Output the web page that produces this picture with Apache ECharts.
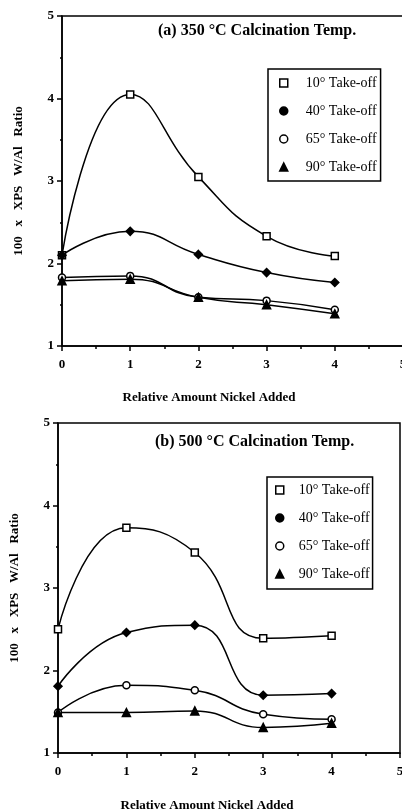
<!DOCTYPE html>
<html>
<head>
<meta charset="utf-8">
<script src="https://cdn.jsdelivr.net/npm/echarts@6/dist/echarts.min.js"></script>
<style>
  html, body { margin: 0; padding: 0; background: #fff; }
  #chart { width: 402px; height: 812px; }
</style>
</head>
<body>
<div id="chart"></div>
<script>
// x positions (relative amount of nickel added)
const nickel = [0, 1, 2, 3, 4]
const seriesNames = ['10° Take-off', '40° Take-off', '65° Take-off', '90° Take-off']

// (a) 350 °C calcination
const a10 = [2.1, 4.05, 3.05, 2.33, 2.09]
const a40 = [2.1, 2.39, 2.11, 1.89, 1.77]
const a65 = [1.83, 1.85, 1.59, 1.55, 1.44]
const a90 = [1.79, 1.81, 1.59, 1.50, 1.39]

// (b) 500 °C calcination
const b10 = [2.5, 3.73, 3.43, 2.39, 2.42]
const b40 = [1.81, 2.46, 2.55, 1.70, 1.72]
const b65 = [1.49, 1.82, 1.76, 1.47, 1.41]
const b90 = [1.49, 1.49, 1.51, 1.31, 1.36]

const serif = '"Liberation Serif", "DejaVu Serif", serif'

// marker style per series: hollow square, filled diamond, hollow circle, filled triangle
const markers = [
  { symbol: 'rect', size: 7, fill: '#fff' },
  { symbol: 'diamond', size: 8, fill: '#000' },
  { symbol: 'circle', size: 7, fill: '#fff' },
  { symbol: 'triangle', size: 8, fill: '#000' },
]
const legendIcons = ['rect', 'circle', 'circle', 'triangle']

const toPairs = (ys) => nickel.map((x, i) => [x, ys[i]])

const makeSeries = (idx, groups) =>
  groups.map((ys, k) => ({
    name: seriesNames[k],
    type: 'line',
    xAxisIndex: idx,
    yAxisIndex: idx,
    data: toPairs(ys),
    smooth: 0.5,
    symbol: markers[k].symbol,
    symbolSize: markers[k].size,
    lineStyle: { color: '#000', width: 1.5 },
    itemStyle: { color: markers[k].fill, borderColor: '#000', borderWidth: 1.5 },
    z: 3,
  }))

const makeXAxis = (idx) => ({
  type: 'value',
  gridIndex: idx,
  min: 0,
  max: 5,
  interval: 1,
  axisLine: { lineStyle: { color: '#000', width: 1.5 } },
  axisTick: { length: 5, lineStyle: { color: '#000', width: 1.5 } },
  minorTick: { show: true, splitNumber: 2, length: 3, lineStyle: { color: '#000', width: 1.5 } },
  splitLine: { show: false },
  axisLabel: { color: '#000', fontFamily: serif, fontWeight: 'bold', fontSize: 13, margin: 12 },
})

const makeYAxis = (idx) => ({
  type: 'value',
  gridIndex: idx,
  min: 1,
  max: 5,
  interval: 1,
  name: '100   x   XPS   W/Al   Ratio',
  nameLocation: 'middle',
  nameGap: 37,
  nameTextStyle: { color: '#000', fontFamily: serif, fontWeight: 'bold', fontSize: 13 },
  axisLine: { lineStyle: { color: '#000', width: 1.5 } },
  axisTick: { length: 5, lineStyle: { color: '#000', width: 1.5 } },
  minorTick: { show: true, splitNumber: 2, length: 2, lineStyle: { color: '#000', width: 1.5 } },
  splitLine: { show: false },
  axisLabel: { color: '#000', fontFamily: serif, fontWeight: 'bold', fontSize: 13, margin: 8 },
})

const makeLegend = (pos) => ({
  orient: 'vertical',
  left: pos.left,
  top: pos.top,
  padding: pos.padding,
  itemGap: 14,
  itemWidth: 8,
  itemHeight: 8,
  borderColor: '#000',
  borderWidth: 1.5,
  selectedMode: false,
  textStyle: { color: '#000', fontFamily: serif, fontSize: 14, padding: [0, 0, 0, pos.textPad] },
  data: seriesNames.map((n, k) => ({
    name: n,
    icon: legendIcons[k],
    itemStyle: { color: markers[k].fill, borderColor: '#000', borderWidth: 1.5 },
  })),
})

const chart = echarts.init(document.getElementById('chart'))

const option = {
  backgroundColor: '#fff',
  animation: false,
  grid: [
    { left: 62, top: 16, width: 341, height: 330, outerBoundsMode: 'none', show: true, borderColor: '#000', borderWidth: 1.5, backgroundColor: 'transparent' },
    { left: 58, top: 423, width: 342, height: 330, outerBoundsMode: 'none', show: true, borderColor: '#000', borderWidth: 1.5, backgroundColor: 'transparent' },
  ],
  xAxis: [makeXAxis(0), makeXAxis(1)],
  yAxis: [makeYAxis(0), makeYAxis(1)],
  legend: [
    makeLegend({ left: 268, top: 69, padding: [7, 4, 7, 11], textPad: 13 }),
    makeLegend({ left: 267, top: 477, padding: [6, 3, 8, 8], textPad: 10 }),
  ],
  graphic: [
    { type: 'text', left: 158, top: 23, style: { text: '(a) 350 °C Calcination Temp.', font: 'bold 16px ' + serif, fill: '#000' } },
    { type: 'text', left: 155, top: 434, style: { text: '(b) 500 °C Calcination Temp.', font: 'bold 16px ' + serif, fill: '#000' } },
    { type: 'text', x: 209, y: 398, style: { text: 'Relative Amount Nickel Added', font: 'bold 13px ' + serif, fill: '#000', align: 'center', verticalAlign: 'middle' } },
    { type: 'text', x: 207, y: 806, style: { text: 'Relative Amount Nickel Added', font: 'bold 13px ' + serif, fill: '#000', align: 'center', verticalAlign: 'middle' } },
  ],
  series: [
    ...makeSeries(0, [a10, a40, a65, a90]),
    ...makeSeries(1, [b10, b40, b65, b90]),
  ],
}

chart.setOption(option)
</script>
</body>
</html>
